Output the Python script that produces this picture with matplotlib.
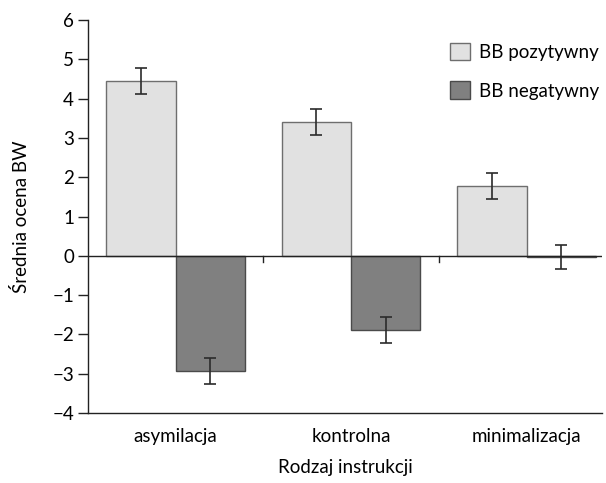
import matplotlib.pyplot as plt
import numpy as np

plt.rcParams['font.family'] = ['Lato', 'DejaVu Sans']

categories = ['asymilacja', 'kontrolna', 'minimalizacja']
pozytywny = [4.45, 3.40, 1.77]
pozytywny_err = [0.33, 0.33, 0.33]
negatywny = [-2.93, -1.88, -0.03]
negatywny_err = [0.33, 0.33, 0.31]
series_names = ['BB pozytywny', 'BB negatywny']

x = np.arange(len(categories))
w = 0.395
fs = 13.5

fig = plt.figure(figsize=(6.06, 4.83), dpi=100)
ax = fig.add_axes([0.1452, 0.1449, 0.8482, 0.8137])

b1 = ax.bar(x - w / 2, pozytywny, w, color='#e1e1e1', edgecolor='#6e6e6e', linewidth=1.0,
            label=series_names[0], zorder=2)
b2 = ax.bar(x + w / 2, negatywny, w, color='#808080', edgecolor='#4a4a4a', linewidth=1.0,
            label=series_names[1], zorder=2)
ax.errorbar(x - w / 2, pozytywny, yerr=pozytywny_err, fmt='none', ecolor='#2b2b2b',
            elinewidth=1.2, capsize=4.5, capthick=1.2, zorder=3)
ax.errorbar(x + w / 2, negatywny, yerr=negatywny_err, fmt='none', ecolor='#2b2b2b',
            elinewidth=1.2, capsize=4.5, capthick=1.2, zorder=3)

# zero line with small marks between groups
ax.axhline(0, color='#222222', linewidth=1.0, zorder=4)
for xm in [0.5, 1.5]:
    ax.plot([xm, xm], [0, -0.15], color='#222222', linewidth=1.0, zorder=4)

ax.set_xlim(-0.5, 2.43)
ax.set_ylim(-4, 6)
ax.set_yticks(range(-4, 7))
ax.set_yticklabels([str(v).replace('-', '\u2212') for v in range(-4, 7)])
ax.set_xticks(x)
ax.set_xticklabels(categories)
ax.tick_params(axis='x', length=0, pad=11, labelsize=fs)
ax.tick_params(axis='y', length=7, width=1.0, pad=3, labelsize=fs, color='#222222')

for s in ['top', 'right']:
    ax.spines[s].set_visible(False)
for s in ['left', 'bottom']:
    ax.spines[s].set_color('#222222')
    ax.spines[s].set_linewidth(1.0)

ax.set_ylabel('Średnia ocena BW', fontsize=fs, labelpad=16)
ax.set_xlabel('Rodzaj instrukcji', fontsize=fs, labelpad=10)

ax.legend(handles=[b1, b2], loc='upper right', bbox_to_anchor=(1.028, 0.985), frameon=False,
          fontsize=fs, handlelength=1.05, handleheight=1.05, handletextpad=0.5,
          labelspacing=1.1)

fig.savefig('out.png', dpi=100)
